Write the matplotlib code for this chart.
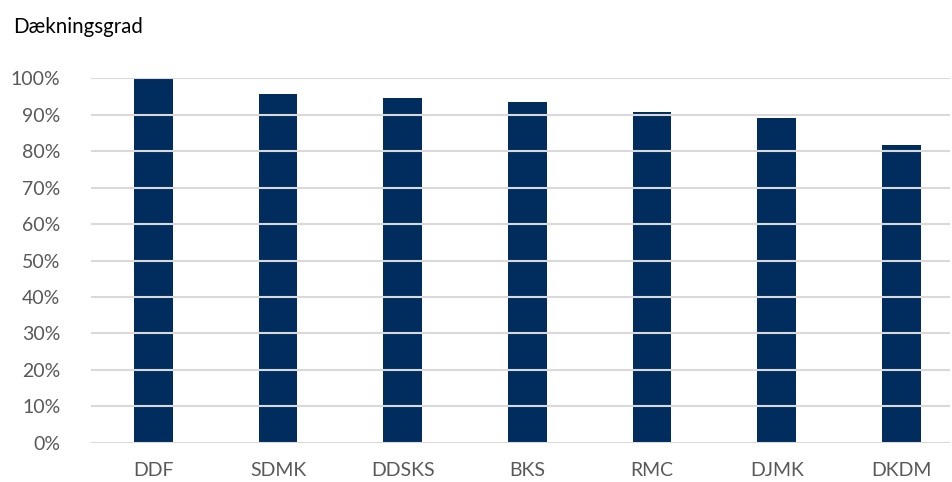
import matplotlib
matplotlib.use("Agg")
from matplotlib import pyplot as plt
from matplotlib.ticker import PercentFormatter

# Dækningsgrad per database
categories = ["DDF", "SDMK", "DDSKS", "BKS", "RMC", "DJMK", "DKDM"]
coverage = [99.8, 95.7, 94.6, 93.5, 90.7, 89.1, 81.7]
yticks = [0, 10, 20, 30, 40, 50, 60, 70, 80, 90, 100]

plt.rcParams['font.family'] = ['Lato', 'DejaVu Sans']

fig = plt.figure(figsize=(9.53, 4.82), dpi=100)
ax = fig.add_axes([91 / 953, 1 - 442.7 / 482, 859 / 953, (442.7 - 78.3) / 482])

x = range(len(categories))
ax.bar(x, coverage, width=0.31, color="#012D5E", zorder=1)

ax.set_ylim(0, 100)
ax.set_xlim(-0.5, 6.39)
ax.set_yticks(yticks)
ax.yaxis.set_major_formatter(PercentFormatter(decimals=0))
ax.set_xticks(list(x))
ax.set_xticklabels(categories)

ax.grid(axis="y", color="#d9d9d9", linewidth=1.5, zorder=2)
ax.set_axisbelow(False)
for s in ax.spines.values():
    s.set_visible(False)
ax.tick_params(axis="both", length=0, labelsize=14, labelcolor="#595959")
ax.tick_params(axis="y", pad=22)
ax.tick_params(axis="x", pad=14)

fig.text(13 / 953, 1 - 27 / 482, "Dækningsgrad", fontsize=14.8, color="black",
         ha="left", va="center")

plt.savefig("out.png", dpi=100)
